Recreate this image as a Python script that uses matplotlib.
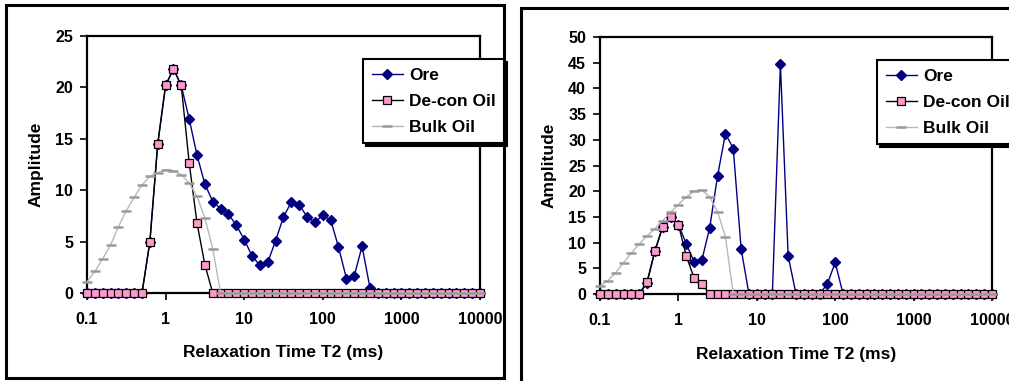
"""
NMR T2 relaxation spectra: ore vs de-contaminated oil vs bulk oil (two samples)
"""

import matplotlib
matplotlib.use("Agg")
import matplotlib.pyplot as plt
from matplotlib.patches import Rectangle

plt.rcParams['font.family'] = ['Liberation Sans', 'DejaVu Sans']
plt.rcParams['font.weight'] = 'bold'

# T2 grid (ms), 10 points per decade
t2 = [0.1, 0.126, 0.158, 0.2, 0.251, 0.316, 0.398, 0.501, 0.631, 0.794,
      1, 1.26, 1.58, 2.0, 2.51, 3.16, 3.98, 5.01, 6.31, 7.94,
      10, 12.6, 15.8, 20, 25.1, 31.6, 39.8, 50.1, 63.1, 79.4,
      100, 126, 158, 200, 251, 316, 398, 501, 631, 794,
      1000, 1260, 1580, 2000, 2510, 3160, 3980, 5010, 6310, 7940, 10000]

# Left sample
ore_a = [0, 0, 0, 0, 0, 0, 0, 0, 5.0, 14.5,
         20.2, 21.8, 20.2, 16.9, 13.4, 10.6, 8.9, 8.2, 7.65, 6.6,
         5.2, 3.6, 2.7, 3.0, 5.1, 7.4, 8.85, 8.6, 7.4, 6.9,
         7.55, 7.1, 4.5, 1.4, 1.65, 4.55, 0.5, 0, 0, 0,
         0, 0, 0, 0, 0, 0, 0, 0, 0, 0, 0]
decon_a = [0, 0, 0, 0, 0, 0, 0, 0, 5.0, 14.5,
           20.2, 21.8, 20.2, 12.6, 6.8, 2.75, 0, 0, 0, 0,
           0, 0, 0, 0, 0, 0, 0, 0, 0, 0,
           0, 0, 0, 0, 0, 0, 0, 0, 0, 0,
           0, 0, 0, 0, 0, 0, 0, 0, 0, 0, 0]
bulk_a = [1.1, 2.1, 3.3, 4.7, 6.45, 8.0, 9.3, 10.5, 11.35, 11.7,
          12.0, 11.9, 11.5, 10.7, 9.4, 7.3, 4.3, 0, 0, 0,
          0, 0, 0, 0, 0, 0, 0, 0, 0, 0,
          0, 0, 0, 0, 0, 0, 0, 0, 0, 0,
          0, 0, 0, 0, 0, 0, 0, 0, 0, 0, 0]

# Right sample
ore_b = [0, 0, 0, 0, 0, 0, 2.1, 8.35, 13.1, 14.9,
         13.5, 9.8, 6.3, 6.7, 12.9, 23.0, 31.2, 28.3, 8.8, 0,
         0, 0, 0, 44.75, 7.45, 0, 0, 0, 0, 1.95,
         6.15, 0, 0, 0, 0, 0, 0, 0, 0, 0,
         0, 0, 0, 0, 0, 0, 0, 0, 0, 0, 0]
decon_b = [0, 0, 0, 0, 0, 0, 2.4, 8.35, 13.1, 14.9,
           13.5, 7.4, 3.2, 1.9, 0, 0, 0, 0, 0, 0,
           0, 0, 0, 0, 0, 0, 0, 0, 0, 0,
           0, 0, 0, 0, 0, 0, 0, 0, 0, 0,
           0, 0, 0, 0, 0, 0, 0, 0, 0, 0, 0]
bulk_b = [1.6, 2.6, 4.1, 6.1, 8.0, 9.7, 11.3, 12.7, 14.25, 15.9,
          17.4, 18.9, 19.95, 20.2, 18.9, 16.0, 11.1, 0, 0, 0,
          0, 0, 0, 0, 0, 0, 0, 0, 0, 0,
          0, 0, 0, 0, 0, 0, 0, 0, 0, 0,
          0, 0, 0, 0, 0, 0, 0, 0, 0, 0, 0]

xticks = [0.1, 1, 10, 100, 1000, 10000]
xtick_labels = ['0.1', '1', '10', '100', '1000', '10000']

W, H = 1009, 381


def px_box(x0, y0, x1, y1):
    """pixel box (top-left origin) -> figure fraction [l, b, w, h]"""
    return [x0 / W, (H - y1) / H, (x1 - x0) / W, (y1 - y0) / H]


def draw_panel(fig, box, ore, decon, bulk, ymax, legend_xy):
    ax = fig.add_axes(box)
    ax.plot(t2, ore, color='#000080', lw=1.0, marker='D', ms=4.6,
            mfc='#000080', mec='#000080', label='Ore', clip_on=False, zorder=3)
    ax.plot(t2, decon, color='black', lw=1.0, marker='s', ms=5.6,
            mfc='#FF99CC', mec='black', mew=0.9, label='De-con Oil',
            clip_on=False, zorder=4)
    ax.plot(t2, bulk, color='#B8B8B8', lw=1.0, marker='_', ms=7, mew=1.8,
            mec='#9A9A9A', label='Bulk Oil', clip_on=False, zorder=5)

    ax.set_xscale('log')
    ax.set_xlim(0.1, 10000)
    ax.set_ylim(0, ymax)
    ax.set_xticks(xticks)
    ax.set_xticklabels(xtick_labels)
    ax.minorticks_off()
    ax.set_yticks(range(0, ymax + 1, 5))
    ax.tick_params(direction='out', length=5, width=1.2, labelsize=11.5)
    ax.tick_params(axis='x', pad=9)
    ax.tick_params(axis='y', pad=5)
    for lab in ax.get_xticklabels() + ax.get_yticklabels():
        lab.set_fontweight('bold')
    for sp in ax.spines.values():
        sp.set_linewidth(1.6)
    ax.set_xlabel('Relaxation Time T2 (ms)', fontsize=12.5, fontweight='bold', labelpad=13)
    ax.set_ylabel('Amplitude', fontsize=12.5, fontweight='bold', labelpad=8)

    leg = ax.legend(loc='upper left', bbox_to_anchor=(legend_xy[0] / W, 1 - legend_xy[1] / H),
                    bbox_transform=fig.transFigure, fancybox=False, framealpha=1,
                    edgecolor='black', prop={'size': 12.5, 'weight': 'bold'},
                    handlelength=1.8, handletextpad=0.35, borderpad=0.5,
                    labelspacing=0.62, borderaxespad=0,
                    shadow={'color': 'black', 'alpha': 1})
    leg.get_frame().set_linewidth(1.5)
    return ax


fig = plt.figure(figsize=(W / 100, H / 100), dpi=100)

draw_panel(fig, px_box(87, 36, 480, 293), ore_a, decon_a, bulk_a, 25, (363, 59))
draw_panel(fig, px_box(600, 37, 992, 294), ore_b, decon_b, bulk_b, 50, (877, 60))

# outer chart borders
fig.patches.append(Rectangle((6 / W, 1 - 378 / H), (504 - 6) / W, (378 - 5) / H,
                             transform=fig.transFigure, fill=False, lw=2.2,
                             edgecolor='black'))
fig.patches.append(Rectangle((521 / W, -0.1), 0.6, 1 - 8 / H + 0.1,
                             transform=fig.transFigure, fill=False, lw=2.2,
                             edgecolor='black'))

plt.savefig('out.png', dpi=100)
plt.close()
